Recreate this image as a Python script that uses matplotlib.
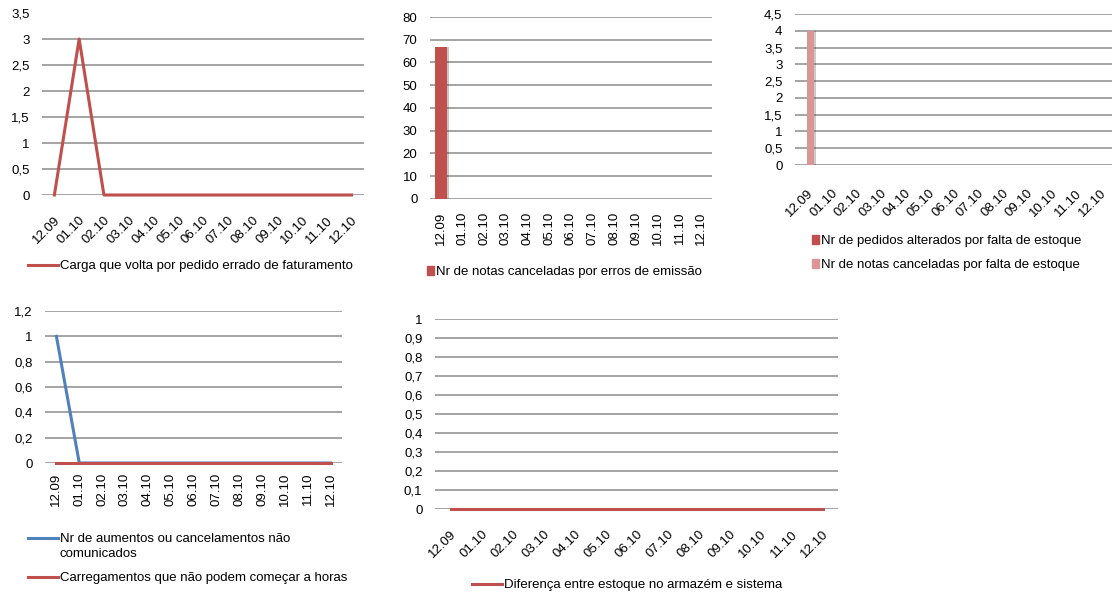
import matplotlib.pyplot as plt
from matplotlib.lines import Line2D
from matplotlib import patheffects as pe

# meses (rotulos do eixo x)
meses = ['12.09', '01.10', '02.10', '03.10', '04.10', '05.10', '06.10',
         '07.10', '08.10', '09.10', '10.10', '11.10', '12.10']

carga_volta = [0, 3, 0, 0, 0, 0, 0, 0, 0, 0, 0, 0, 0]
notas_erros_emissao = [67, 0, 0, 0, 0, 0, 0, 0, 0, 0, 0, 0, 0]
pedidos_alterados = [0, 0, 0, 0, 0, 0, 0, 0, 0, 0, 0, 0, 0]
notas_falta_estoque = [4, 0, 0, 0, 0, 0, 0, 0, 0, 0, 0, 0, 0]
aumentos_cancelamentos = [1, 0, 0, 0, 0, 0, 0, 0, 0, 0, 0, 0, 0]
carregamentos_horas = [0, 0, 0, 0, 0, 0, 0, 0, 0, 0, 0, 0, 0]
diferenca_estoque = [0, 0, 0, 0, 0, 0, 0, 0, 0, 0, 0, 0, 0]

VERMELHO = '#C0504D'
ROSA = '#D99694'
AZUL = '#4F81BD'
GRADE = '#8C8C8C'

plt.rcParams['font.family'] = ['Liberation Sans', 'DejaVu Sans']
plt.rcParams['font.size'] = 9.5

W, H = 1117, 596
fig = plt.figure(figsize=(W / 100, H / 100), dpi=100)


def eixo(x0, x1, ytop, ybot):
    # cria um eixo a partir de coordenadas em pixels
    return fig.add_axes([x0 / W, 1 - ybot / H, (x1 - x0) / W, (ybot - ytop) / H])


def fmt(v):
    return ('%g' % v).replace('.', ',')


def estilo(ax, yticks, rot, pad_x, esconder_topo=False):
    ax.set_xlim(-0.5, len(meses) - 0.5)
    ax.set_ylim(yticks[0], yticks[-1])
    ax.set_yticks(yticks)
    ax.set_yticklabels([fmt(v) for v in yticks])
    ax.set_xticks(range(len(meses)))
    if rot == 45:
        ax.set_xticklabels(meses, rotation=45, ha='right', rotation_mode='anchor')
    else:
        ax.set_xticklabels(meses, rotation=90, ha='center', va='top')
    for s in ax.spines.values():
        s.set_visible(False)
    ax.tick_params(axis='both', length=0, colors='black')
    ax.tick_params(axis='y', pad=9)
    ax.tick_params(axis='x', pad=pad_x)
    ax.yaxis.grid(True, color=GRADE, lw=1.1)
    ax.set_axisbelow(True)
    if esconder_topo:
        ax.get_ygridlines()[-1].set_visible(False)


def legenda(ax, handles, labels, x, y, hl=2.3, spacing=0.9):
    leg = ax.legend(handles, labels, loc='center left',
                    bbox_to_anchor=(x / W, 1 - y / H), bbox_transform=fig.transFigure,
                    frameon=False, handlelength=hl, handletextpad=0.15,
                    borderpad=0, borderaxespad=0, labelspacing=spacing,
                    fontsize=9.5)
    return leg


sombra = [pe.SimplePatchShadow(offset=(1.5, -0.5), alpha=0.25), pe.Normal()]
x = range(len(meses))

# grafico 1
ax1 = eixo(42, 364, 13, 195)
ax1.plot(x, carga_volta, color=VERMELHO, lw=2.2, clip_on=False)
estilo(ax1, [0, 0.5, 1, 1.5, 2, 2.5, 3, 3.5], 45, 14, esconder_topo=True)
legenda(ax1, [Line2D([], [], color=VERMELHO, lw=2.2)],
        ['Carga que volta por pedido errado de faturamento'], 28, 266)

# grafico 2
ax2 = eixo(430, 712, 17, 199)
b = ax2.bar(x, notas_erros_emissao, width=0.55, color=VERMELHO)
for p in b:
    p.set_path_effects(sombra)
estilo(ax2, [0, 10, 20, 30, 40, 50, 60, 70, 80], 90, 9)
legenda(ax2, [plt.Rectangle((0, 0), 1, 1, color=VERMELHO)],
        ['Nr de notas canceladas por erros de emissão'], 427, 272, hl=0.55)

# grafico 3
ax3 = eixo(795, 1112, 14, 165)
w = 0.29
b1 = ax3.bar([i - w / 2 for i in x], pedidos_alterados, width=w, color=VERMELHO)
b2 = ax3.bar([i + w / 2 for i in x], notas_falta_estoque, width=w, color=ROSA)
for p in list(b1) + list(b2):
    p.set_path_effects(sombra)
estilo(ax3, [0, 0.5, 1, 1.5, 2, 2.5, 3, 3.5, 4, 4.5], 45, 16)
legenda(ax3, [plt.Rectangle((0, 0), 1, 1, color=VERMELHO),
              plt.Rectangle((0, 0), 1, 1, color=ROSA)],
        ['Nr de pedidos alterados por falta de estoque',
         'Nr de notas canceladas por falta de estoque'], 812, 253, hl=0.55)

# grafico 4
ax4 = eixo(45, 342, 311, 463)
ax4.plot(x, aumentos_cancelamentos, color=AZUL, lw=2.2, clip_on=False)
ax4.plot(x, carregamentos_horas, color=VERMELHO, lw=2.2, clip_on=False)
estilo(ax4, [0, 0.2, 0.4, 0.6, 0.8, 1, 1.2], 90, 7)
leg_a = legenda(ax4, [Line2D([], [], color=AZUL, lw=2.2)],
                ['Nr de aumentos ou cancelamentos não'], 28, 539)
ax4.add_artist(leg_a)
fig.text(59 / W, 1 - 554 / H, 'comunicados', fontsize=9.5, va='center', ha='left')
legenda(ax4, [Line2D([], [], color=VERMELHO, lw=2.2)],
        ['Carregamentos que não podem começar a horas'], 28, 578)

# grafico 5
ax5 = eixo(435, 838, 319, 509)
ax5.plot(x, diferenca_estoque, color=VERMELHO, lw=2.2, clip_on=False)
estilo(ax5, [0, 0.1, 0.2, 0.3, 0.4, 0.5, 0.6, 0.7, 0.8, 0.9, 1], 45, 14)
legenda(ax5, [Line2D([], [], color=VERMELHO, lw=2.2)],
        ['Diferença entre estoque no armazém e sistema'], 472, 585)

fig.savefig('out.png', dpi=100)
